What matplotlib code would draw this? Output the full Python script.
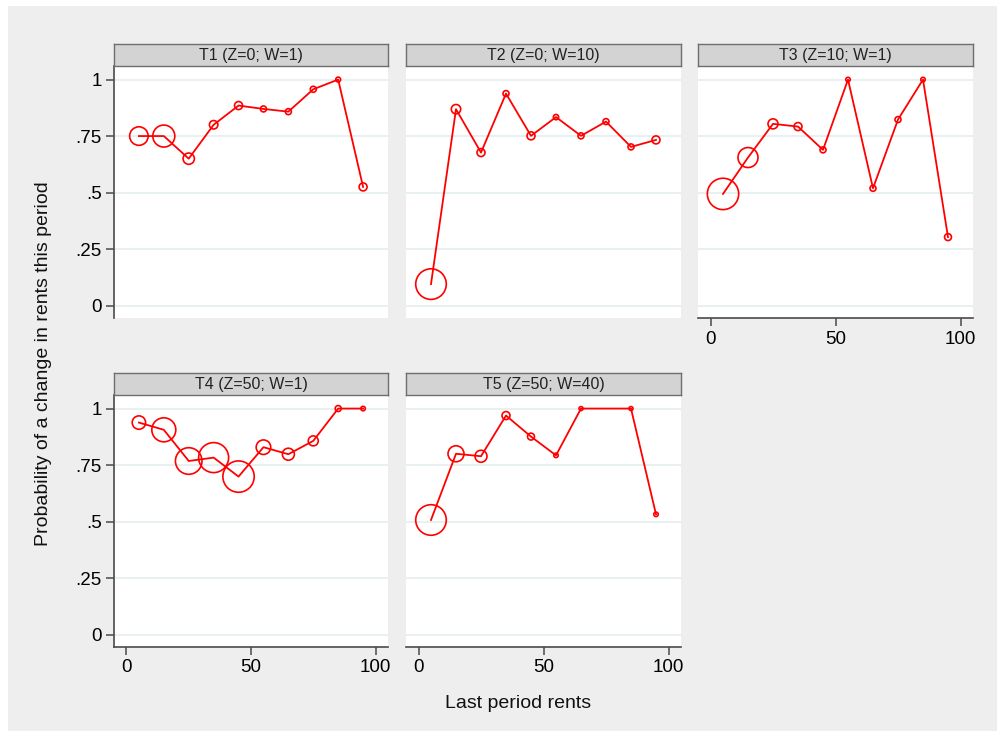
import numpy as np
import matplotlib.pyplot as plt
from matplotlib.patches import Rectangle

plt.rcParams['font.family'] = ['Liberation Sans', 'DejaVu Sans']

# last period rents (bin midpoints)
rents = [5, 15, 25, 35, 45, 55, 65, 75, 85, 95]
rents_t5 = [5, 15, 25, 35, 45, 55, 65, 85, 95]

titles = ['T1 (Z=0; W=1)', 'T2 (Z=0; W=10)', 'T3 (Z=10; W=1)',
          'T4 (Z=50; W=1)', 'T5 (Z=50; W=40)']

# probability of a change in rents this period
t1_prob = [0.75, 0.75, 0.65, 0.80, 0.885, 0.87, 0.858, 0.957, 1.0, 0.525]
t2_prob = [0.095, 0.869, 0.677, 0.938, 0.751, 0.834, 0.751, 0.814, 0.702, 0.733]
t3_prob = [0.494, 0.655, 0.804, 0.792, 0.689, 1.0, 0.519, 0.823, 1.0, 0.303]
t4_prob = [0.938, 0.906, 0.768, 0.783, 0.699, 0.829, 0.798, 0.857, 1.0, 1.0]
t5_prob = [0.507, 0.800, 0.789, 0.969, 0.876, 0.793, 1.0, 1.0, 0.532]

# number of observations per bin (marker weight)
t1_n = [86, 121, 32, 18, 16, 9, 9, 9, 6, 16]
t2_n = [234, 22, 16, 9, 16, 7, 9, 9, 9, 16]
t3_n = [246, 100, 25, 16, 9, 5, 9, 9, 5, 12]
t4_n = [45, 144, 177, 225, 246, 53, 36, 25, 9, 5]
t5_n = [234, 64, 36, 16, 12, 5, 4, 4, 5]

xs = [rents, rents, rents, rents, rents_t5]
ys = [t1_prob, t2_prob, t3_prob, t4_prob, t5_prob]
ns = [t1_n, t2_n, t3_n, t4_n, t5_n]

W, H = 997, 731
fig = plt.figure(figsize=(W / 100, H / 100), dpi=100, facecolor='white')
fig.patches.append(Rectangle((8 / W, 0), 1, 1 - 6 / H, transform=fig.transFigure,
                             facecolor='#eeeeee', edgecolor='none', zorder=-10))


def box(x0, y0, x1, y1):
    return [x0 / W, 1 - y1 / H, (x1 - x0) / W, (y1 - y0) / H]


cols = [(114, 388), (406, 681), (698, 973)]
rows = [(66, 318), (395, 647)]
strips = [(44, 66), (373, 395)]
spots = [(0, 0), (0, 1), (0, 2), (1, 0), (1, 1)]
with_xaxis = [False, False, True, True, True]

axc = '#4a4a4a'
for i, (r, c) in enumerate(spots):
    x0, x1 = cols[c]
    ax = fig.add_axes(box(x0, rows[r][0], x1, rows[r][1]))
    ax.set_facecolor('white')
    ax.plot(xs[i], ys[i], color='red', lw=1.3, zorder=3)
    ax.scatter(xs[i], ys[i], s=2.07 * np.array(ns[i]), facecolors='none',
               edgecolors='red', linewidths=1.2, zorder=4, clip_on=False)
    ax.set_xlim(-5, 105)
    ax.set_ylim(-0.055, 1.06)
    ax.set_yticks([0, 0.25, 0.5, 0.75, 1])
    ax.set_yticklabels(['0', '.25', '.5', '.75', '1'])
    ax.set_xticks([0, 50, 100])
    ax.yaxis.grid(True, color='#e6eff1', lw=1.3)
    ax.set_axisbelow(True)
    for s in ['top', 'right']:
        ax.spines[s].set_visible(False)
    ax.tick_params(labelsize=13.5, length=6, width=1.1, color=axc, pad=3)
    if c == 0:
        ax.spines['left'].set_color(axc)
        ax.spines['left'].set_linewidth(1.2)
    else:
        ax.spines['left'].set_visible(False)
        ax.tick_params(axis='y', left=False, labelleft=False)
    if with_xaxis[i]:
        ax.spines['bottom'].set_color(axc)
        ax.spines['bottom'].set_linewidth(1.2)
    else:
        ax.spines['bottom'].set_visible(False)
        ax.tick_params(axis='x', bottom=False, labelbottom=False)

    sax = fig.add_axes(box(x0, strips[r][0], x1, strips[r][1]))
    sax.set_facecolor('#d3d3d3')
    sax.set_xticks([])
    sax.set_yticks([])
    for sp in sax.spines.values():
        sp.set_color('#6e6e6e')
        sp.set_linewidth(1.0)
    sax.text(0.5, 0.48, titles[i], ha='center', va='center', fontsize=11.5,
             color='#222222', transform=sax.transAxes)

fig.text(518 / W, 1 - 703 / H, 'Last period rents', ha='center', va='center',
         fontsize=14, color='#111111')
fig.text(44 / W, 1 - 364 / H, 'Probability of a change in rents this period',
         ha='center', va='center', rotation=90, fontsize=14, color='#111111')

fig.savefig('out.png', dpi=100, facecolor=fig.get_facecolor())
